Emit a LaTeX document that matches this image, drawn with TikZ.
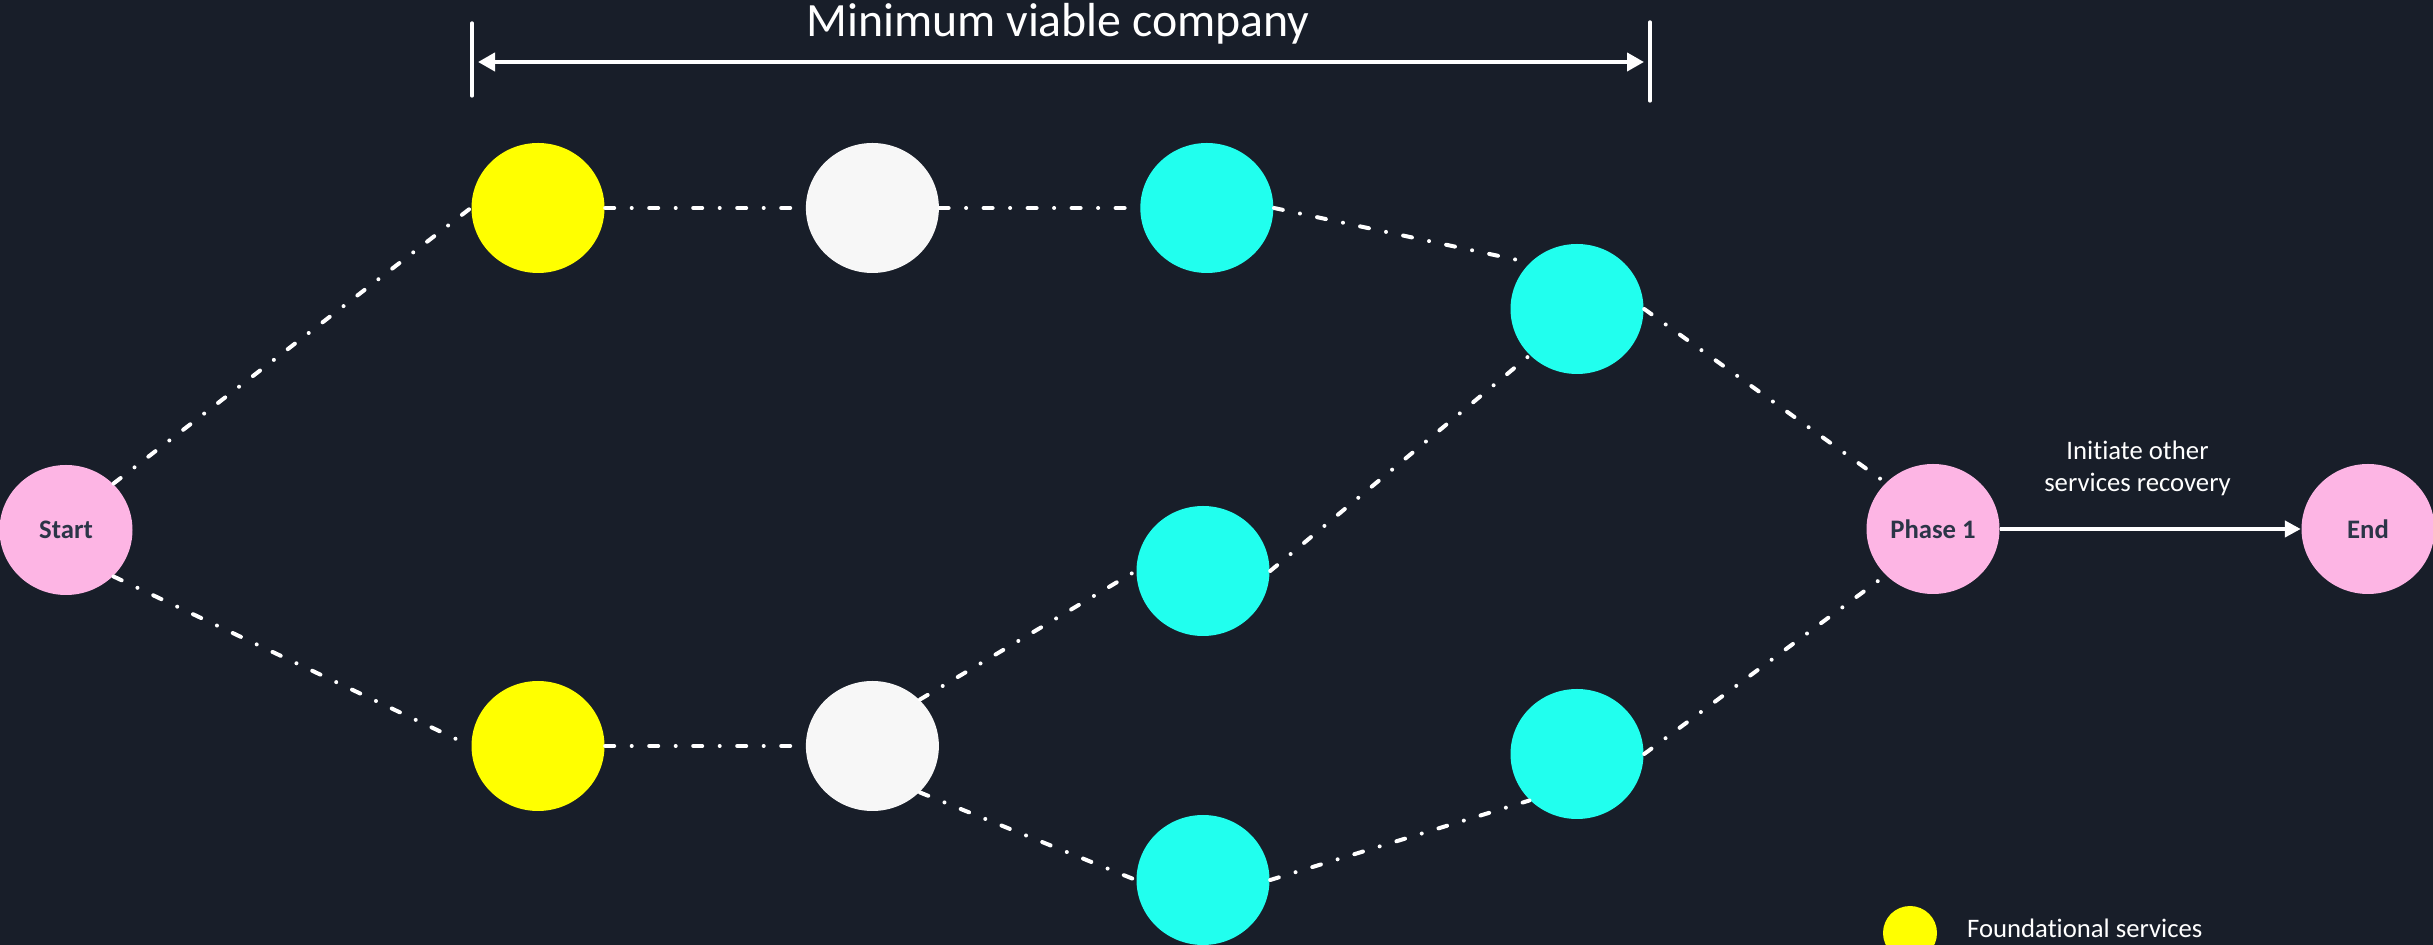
\documentclass[tikz,border=0pt]{standalone}
\usepackage{fontspec}
\setmainfont[Ligatures=NoCommon]{Carlito}
\usepackage{tikz}
\usetikzlibrary{positioning}
\usetikzlibrary{arrows.meta}
\usetikzlibrary{shapes.geometric}
\definecolor{board}{HTML}{181E29}
\definecolor{phase_pink}{HTML}{FDB5E4}
\definecolor{aqua}{HTML}{21FFEE}
\definecolor{offwhite}{HTML}{F7F7F7}
\definecolor{navy}{HTML}{2B3547}
\definecolor{pure_yellow}{HTML}{FFFF00}
\tikzset{
phase_item/.style={ellipse, fill=phase_pink, text=navy, font=\fontsize{7.6}{9}\selectfont\bfseries, minimum width=1.33cm, minimum height=1.3cm, inner sep=0pt},
service/.style={ellipse, minimum width=1.33cm, minimum height=1.3cm, inner sep=0pt},
foundational/.style={service, fill=pure_yellow},
core/.style={service, fill=offwhite},
dependent/.style={service, fill=aqua},
link/.style={draw=white, line width=1.14pt, line cap=round, dash pattern=on 0.09cm off 0.175cm on 0cm off 0.175cm},
small_text/.style={text=white, font=\fontsize{7.6}{9.3}\selectfont},
title_text/.style={text=white, font=\fontsize{13.6}{16}\selectfont},
white_arrow/.style={draw=white, line width=1.14pt, -{Triangle[length=0.16cm, width=0.16cm]}}
}

\begin{document}
\begin{tikzpicture}
    \fill[board] (0,0) rectangle (24.33,-9.45);
    \useasboundingbox (0,0) rectangle (24.33,-9.45);

    \node[phase_item] (start) at (0.66,-5.30) {Start};
    \node[foundational] (yellow_1) at (5.38,-2.08) {};
    \node[core] (white_1) [right=2cm of yellow_1] {};
    \node[dependent] (cyan_1) [right=2cm of white_1] {};
    \node[dependent] (cyan_2) at (15.77,-3.09) {};
    \node[foundational] (yellow_2) at (5.38,-7.46) {};
    \node[core] (white_2) [right=2cm of yellow_2] {};
    \node[dependent] (cyan_3) at (12.03,-5.71) {};
    \node[dependent] (cyan_4) at (12.03,-8.80) {};
    \node[dependent] (cyan_5) at (15.77,-7.54) {};
    \node[phase_item] (phase_1) at (19.33,-5.29) {Phase 1};
    \node[phase_item] (end) at (23.68,-5.29) {End};

    \draw[link] (start.north east) -- (yellow_1.west);
    \draw[link] (yellow_1.east) -- (white_1.west);
    \draw[link] (white_1.east) -- (cyan_1.west);
    \draw[link] (cyan_1.east) -- (cyan_2.north west);
    \draw[link] (cyan_2.east) -- (phase_1.north west);
    \draw[link] (start.south east) -- (yellow_2.west);
    \draw[link] (yellow_2.east) -- (white_2.west);
    \draw[link] (white_2.north east) -- (cyan_3.west);
    \draw[link] (white_2.south east) -- (cyan_4.west);
    \draw[link] (cyan_3.east) -- (cyan_2.south west);
    \draw[link] (cyan_4.east) -- (cyan_5.south west);
    \draw[link] (cyan_5.east) -- (phase_1.south west);

    \draw[white_arrow] (phase_1) -- (end) node[midway, above=0.19cm, xshift=-0.13cm, small_text, align=center] {Initiate other\\services recovery};

    % span of the minimum viable company
    \coordinate (mvc_left) at (4.72,-0.62);
    \coordinate (mvc_right) at (16.50,-0.62);
    \draw[white, line width=0.95pt, line cap=round] ([yshift=0.39cm]mvc_left) -- ([yshift=-0.34cm]mvc_left);
    \draw[white, line width=0.95pt, line cap=round] ([yshift=0.40cm]mvc_right) -- ([yshift=-0.39cm]mvc_right);
    \draw[white, line width=1.14pt, {Triangle[length=0.17cm, width=0.18cm]}-{Triangle[length=0.17cm, width=0.18cm]}, shorten <=0.06cm, shorten >=0.06cm] (mvc_left) -- (mvc_right);
    \node[title_text] (mvc) at (10.58,-0.24) {Minimum viable company};

    % legend
    \node[foundational, minimum width=0.54cm, minimum height=0.54cm] (legend_dot) at (19.10,-9.33) {};
    \node[small_text, anchor=west] (legend_text) [right=0.17cm of legend_dot, yshift=0.05cm] {Foundational services};
\end{tikzpicture}
\end{document}
